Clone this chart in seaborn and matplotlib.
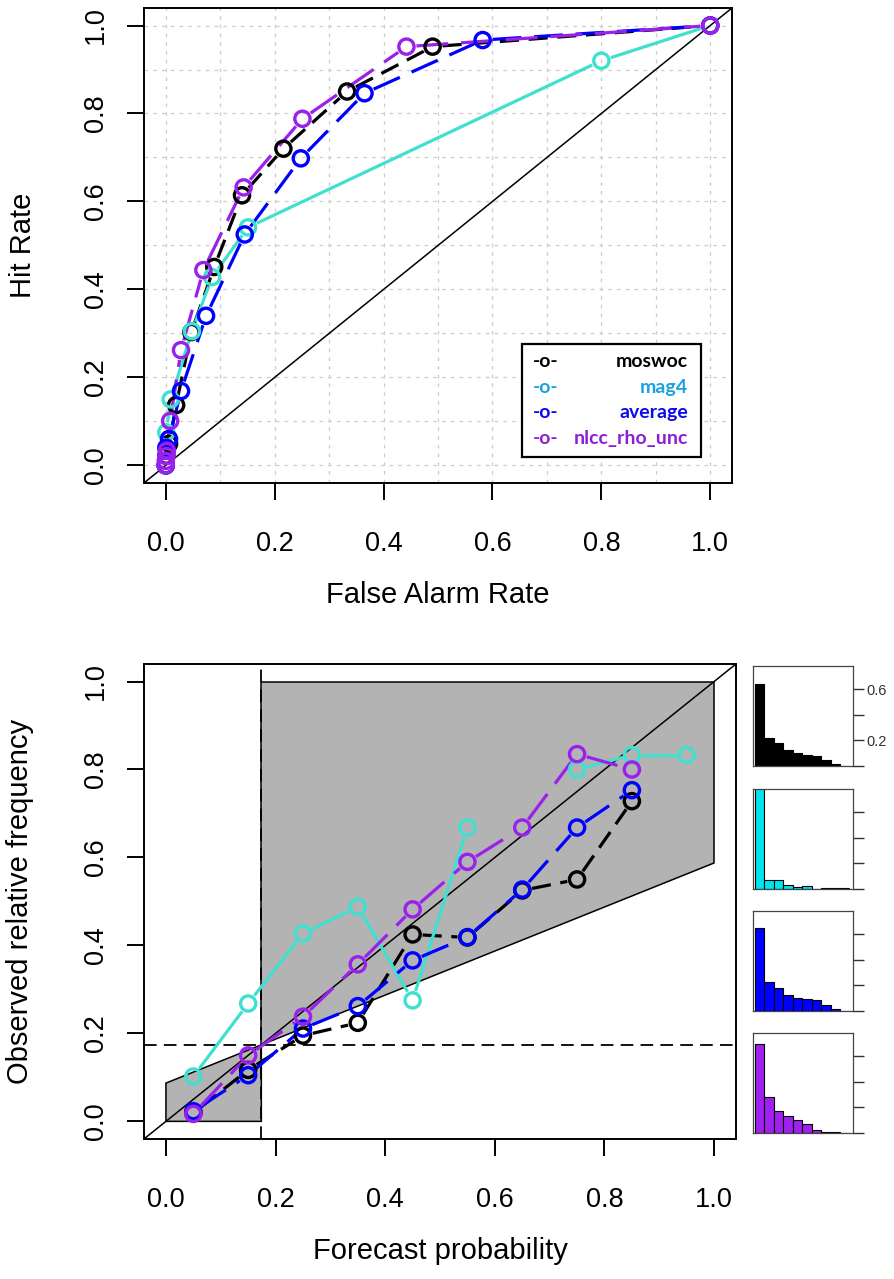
import numpy as np
import matplotlib
matplotlib.use("Agg")
import matplotlib.pyplot as plt
import seaborn as sns
from matplotlib.patches import Rectangle

# --- ROC points (false alarm rate, hit rate) ---
moswoc_far = [0.0, 0.001, 0.006, 0.019, 0.047, 0.089, 0.140, 0.216, 0.333, 0.490, 1.0]
moswoc_hit = [0.0, 0.022, 0.049, 0.137, 0.303, 0.451, 0.614, 0.720, 0.850, 0.952, 1.0]
mag4_far = [0.0, 0.001, 0.009, 0.048, 0.085, 0.151, 0.800, 1.0]
mag4_hit = [0.0, 0.075, 0.150, 0.305, 0.428, 0.541, 0.920, 1.0]
average_far = [0.0, 0.001, 0.006, 0.028, 0.074, 0.145, 0.248, 0.365, 0.582, 1.0]
average_hit = [0.0, 0.040, 0.060, 0.169, 0.340, 0.525, 0.698, 0.846, 0.967, 1.0]
nlcc_far = [0.0, 0.0, 0.001, 0.002, 0.008, 0.028, 0.069, 0.143, 0.251, 0.442, 1.0]
nlcc_hit = [0.0, 0.010, 0.021, 0.033, 0.101, 0.262, 0.444, 0.632, 0.788, 0.952, 1.0]

# --- reliability (observed frequency per forecast bin) ---
bin_mid = [0.05, 0.15, 0.25, 0.35, 0.45, 0.55, 0.65, 0.75, 0.85, 0.95]
moswoc_obs = [0.019, 0.117, 0.195, 0.224, 0.425, 0.418, 0.525, 0.550, 0.728, np.nan]
mag4_obs = [0.102, 0.268, 0.427, 0.488, 0.275, 0.668, np.nan, 0.800, 0.833, 0.833]
average_obs = [0.023, 0.105, 0.211, 0.262, 0.366, 0.419, 0.527, 0.668, 0.753, np.nan]
nlcc_obs = [0.017, 0.150, 0.238, 0.357, 0.482, 0.590, 0.668, 0.835, 0.800, np.nan]
climatology = 0.174

# --- forecast frequency histograms ---
moswoc_freq = [0.640, 0.222, 0.178, 0.123, 0.099, 0.089, 0.081, 0.044, 0.016, 0.0]
mag4_freq = [0.850, 0.074, 0.068, 0.034, 0.013, 0.021, 0.0, 0.008, 0.008, 0.008]
average_freq = [0.648, 0.227, 0.183, 0.123, 0.102, 0.094, 0.086, 0.044, 0.018, 0.0]
nlcc_freq = [0.697, 0.279, 0.175, 0.136, 0.102, 0.070, 0.023, 0.010, 0.010, 0.0]

names = ["moswoc", "mag4", "average", "nlcc_rho_unc"]
line_colors = ["black", "#40E0D0", "#0000FF", "#9A20EC"]
text_colors = ["black", "#1BA1E2", "#0A0AF0", "#8B1FD8"]
hist_colors = ["black", "#00E5EE", "#0000FF", "#A020F0"]
dash_styles = [(6, 3), None, (9, 4), (10, 4)]

sns.set_style("ticks")
plt.rcParams["font.family"] = ["Liberation Sans", "DejaVu Sans"]
plt.rcParams["text.color"] = "black"
plt.rcParams["axes.labelcolor"] = "black"
plt.rcParams["xtick.color"] = "black"
plt.rcParams["ytick.color"] = "black"

DPI = 100
fig = plt.figure(figsize=(8.95, 12.79), dpi=DPI)


def draw_b(ax, x, y, color, dashes, gap=10):
    # R-style type="b": line segments stop short of each point
    x = np.asarray(x, float)
    y = np.asarray(y, float)
    pts = ax.transData.transform(np.column_stack([x, y]))
    inv = ax.transData.inverted()
    ls = "-" if dashes is None else (0, dashes)
    for i in range(len(x) - 1):
        if np.isnan(y[i]) or np.isnan(y[i + 1]):
            continue
        d = pts[i + 1] - pts[i]
        L = np.hypot(*d)
        if L <= 2 * gap:
            continue
        u = d / L
        a = inv.transform(pts[i] + u * gap)
        b = inv.transform(pts[i + 1] - u * gap)
        ax.plot([a[0], b[0]], [a[1], b[1]], color=color, lw=2.3, linestyle=ls,
                solid_capstyle="butt", dash_capstyle="butt", zorder=3)
    sns.scatterplot(x=x, y=y, ax=ax, color=color, facecolor="none", edgecolor=color,
                    marker="o", s=120, linewidth=2.4, zorder=4, legend=False)


def style_main(ax, xlabel, ylabel, ylab_x):
    ticks = [0, 0.2, 0.4, 0.6, 0.8, 1.0]
    ax.set_xticks(ticks)
    ax.set_yticks(ticks)
    ax.set_xticklabels([f"{t:.1f}" for t in ticks])
    ax.set_yticklabels([f"{t:.1f}" for t in ticks])
    ax.tick_params(axis="both", which="major", direction="out", length=12.5,
                   width=1.4, labelsize=19.5, color="black", labelcolor="black")
    ax.tick_params(axis="x", pad=22)
    ax.tick_params(axis="y", pad=13, labelrotation=90)
    for lab in ax.get_yticklabels():
        lab.set_va("center")
    for s in ax.spines.values():
        s.set_linewidth(1.4)
        s.set_color("black")
    ax.set_xlabel(xlabel, fontsize=21, va="center", color="black")
    ax.set_ylabel(ylabel, fontsize=21, va="center", color="black")
    ax.xaxis.set_label_coords(0.5, -0.235)
    ax.yaxis.set_label_coords(ylab_x, 0.5)


lims = (-0.04, 1.04)

# ---------------- ROC ----------------
ax1 = fig.add_axes([0.1609, 0.6224, 0.657, 0.3714])
ax1.set_xlim(lims)
ax1.set_ylim(lims)
grid = np.arange(0, 1.01, 0.1)
ax1.set_xticks(grid, minor=True)
ax1.set_yticks(grid, minor=True)
ax1.tick_params(which="minor", length=0)
ax1.grid(which="both", color="#CDCDCD", linestyle=(0, (3, 4)), linewidth=0.9)
ax1.set_axisbelow(True)
ax1.plot(lims, lims, color="black", lw=1.1, zorder=2)

roc = [(moswoc_far, moswoc_hit), (mag4_far, mag4_hit),
       (average_far, average_hit), (nlcc_far, nlcc_hit)]
for (fx, hy), c, d in zip(roc, line_colors, dash_styles):
    draw_b(ax1, fx, hy, c, d)
ax1.set_xlim(lims)
ax1.set_ylim(lims)
style_main(ax1, "False Alarm Rate", "Hit Rate", -0.206)

# legend box
ax1.add_patch(Rectangle((0.642, 0.0554), 0.306, 0.2366, transform=ax1.transAxes,
                        facecolor="white", edgecolor="black", lw=1.6, zorder=5))
row_y = [0.2547, 0.2, 0.1474, 0.0926]
for nm, tc, yy in zip(names, text_colors, row_y):
    ax1.text(0.6616, yy, "-o-", color=tc, transform=ax1.transAxes, ha="left",
             va="center", fontsize=14, fontweight="bold", family=["Lato", "DejaVu Sans"], zorder=6)
    ax1.text(0.925, yy, nm, color=tc, transform=ax1.transAxes, ha="right",
             va="center", fontsize=14, fontweight="bold", family=["Lato", "DejaVu Sans"], zorder=6)

# ---------------- reliability ----------------
ax2 = fig.add_axes([0.1609, 0.1095, 0.6615, 0.3714])
ax2.set_xlim(lims)
ax2.set_ylim(lims)
c0 = climatology
ax2.fill([0, 0, c0, c0], [0, c0 / 2, c0, 0], facecolor="#B3B3B3",
         edgecolor="black", lw=1.1, zorder=1)
ax2.fill([c0, c0, 1, 1], [c0, 1, 1, (1 + c0) / 2], facecolor="#B3B3B3",
         edgecolor="black", lw=1.1, zorder=1)
ax2.plot(lims, lims, color="black", lw=1.1, zorder=2)
ax2.axhline(c0, color="black", lw=1.3, linestyle=(0, (7, 4)), zorder=2)
ax2.axvline(c0, color="black", lw=1.3, linestyle=(0, (7, 4)), zorder=2)

rel = [moswoc_obs, mag4_obs, average_obs, nlcc_obs]
for obs, c, d in zip(rel, line_colors, dash_styles):
    draw_b(ax2, bin_mid, obs, c, d)
ax2.set_xlim(lims)
ax2.set_ylim(lims)
style_main(ax2, "Forecast probability", "Observed relative frequency", -0.209)

# ---------------- inset histograms ----------------
freqs = [moswoc_freq, mag4_freq, average_freq, nlcc_freq]
tops = [666, 789, 911, 1033]
for i, (fr, hc, top) in enumerate(zip(freqs, hist_colors, tops)):
    hax = fig.add_axes([752.7 / 895, 1 - (top + 100) / 1279, 100 / 895, 100 / 1279])
    sns.barplot(x=list(range(10)), y=fr, ax=hax, color=hc, edgecolor="black",
                width=1, linewidth=0.8, saturation=1)
    hax.set_xlim(-0.74, 9.85)
    hax.set_ylim(0, 0.78)
    hax.set_xticks([])
    hax.yaxis.tick_right()
    hax.set_yticks([0, 0.2, 0.4, 0.6])
    if i == 0:
        hax.set_yticklabels(["", "0.2", "", "0.6"])
    else:
        hax.set_yticklabels(["", "", "", ""])
    hax.tick_params(axis="y", direction="out", length=8, width=1.0, pad=2,
                    labelsize=10.5, colors="#333333")
    hax.set_xlabel("")
    hax.set_ylabel("")
    for s in hax.spines.values():
        s.set_visible(True)
        s.set_linewidth(0.9)
        s.set_color("#444444")

fig.savefig("out.png", dpi=DPI)
